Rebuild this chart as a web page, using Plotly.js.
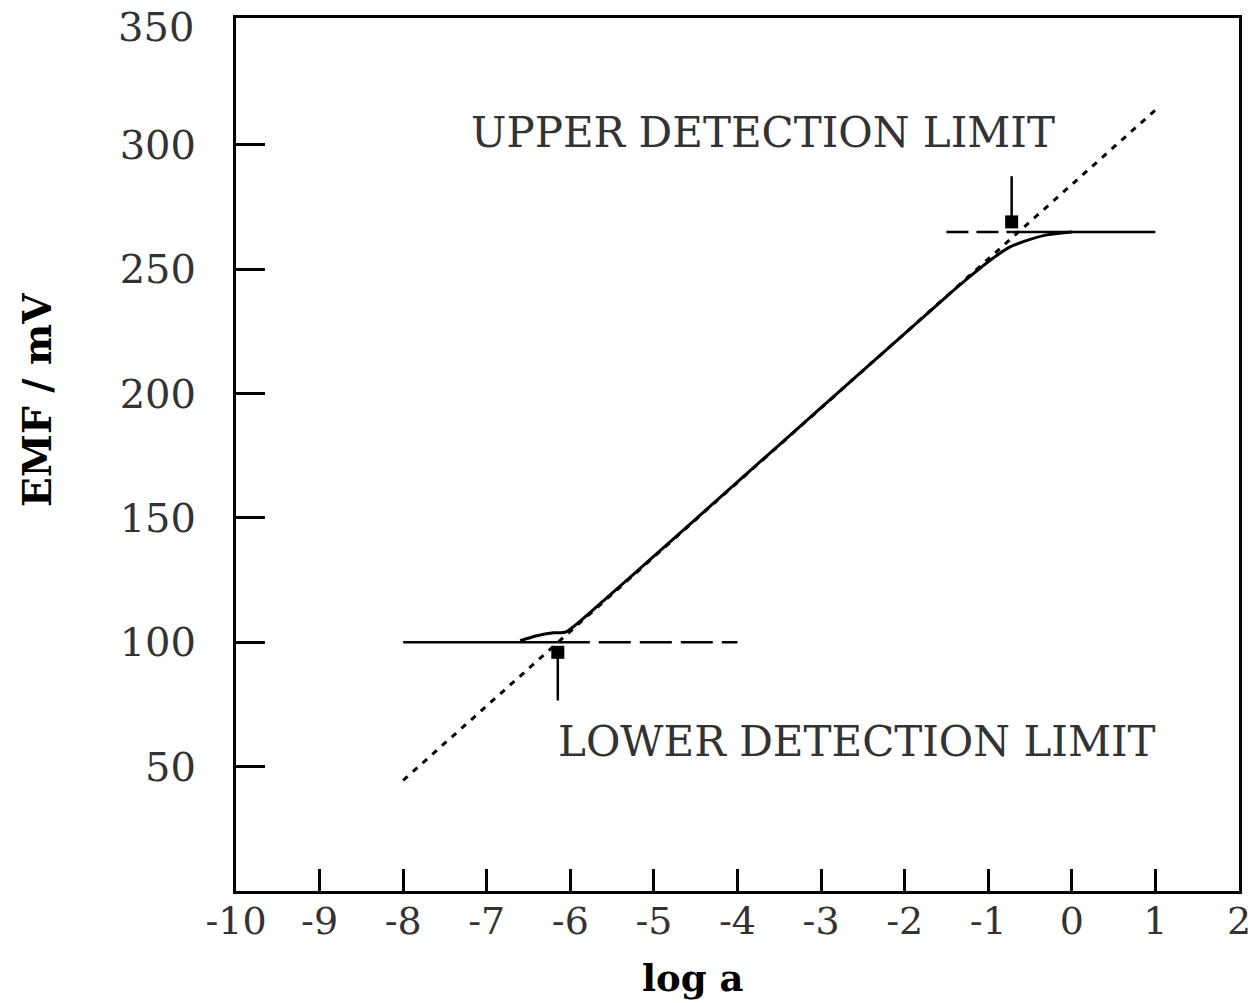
<!DOCTYPE html>
<html>
<head>
<meta charset="utf-8">
<script src="https://cdn.plot.ly/plotly-3.0.1.min.js"></script>
<style>html,body{margin:0;padding:0;background:#fff;}#chart{width:1257px;height:1003px;}</style>
</head>
<body>
<div id="chart"></div>
<script>
// Measured response (solid curve)
const curveX = [-6.6, -6.4, -6.2, -6.05, -5.5, -5, -4, -3, -2, -1.5, -1.25, -1.0, -0.75, -0.5, -0.3, -0.1, 0];
const curveY = [100.6, 102.6, 103.8, 104.2, 119.8, 134.6, 164.5, 194.3, 224.1, 239.0, 246.2, 253.0, 258.8, 262.0, 263.8, 264.7, 265.0];

// Extrapolated Nernstian line (dotted)
const nernstX = [-8, 1];
const nernstY = [44.5, 314];

// Lower detection limit construction line
const lowerSolidX = [-8, -6.15];
const lowerDashX = [-6.15, -4];
const lowerY = [100, 100];

// Upper detection limit construction line
const upperDashX = [-1.5, -0.72];
const upperSolidX = [-0.72, 1];
const upperY = [265, 265];

// Detection limit arrow positions (x, tip y, tail y)
const lowerLimitArrow = {x: -6.15, tip: 100, tail: 76};
const upperLimitArrow = {x: -0.72, tip: 265, tail: 288};

// Axis ticks
const xTickVals = [-10, -9, -8, -7, -6, -5, -4, -3, -2, -1, 0, 1, 2];
const xTickText = ['-10', '-9', '-8', '-7', '-6', '-5', '-4', '-3', '-2', '-1', '0', '1', '2'];
const yTickVals = [50, 100, 150, 200, 250, 300];
const yTickText = ['50', '100', '150', '200', '250', '300'];
// top label of the y axis (no tick mark in the original, sits at the frame top)
const yTopVal = 350;
const yTopText = '350';

const FONT = 'DejaVu Serif';

const traces = [
  {x: nernstX, y: nernstY, mode: 'lines', line: {color: '#000', width: 3, dash: '6px,7px'}, hoverinfo: 'skip'},
  {x: lowerSolidX, y: lowerY, mode: 'lines', line: {color: '#000', width: 2.5}, hoverinfo: 'skip'},
  {x: lowerDashX, y: lowerY, mode: 'lines', line: {color: '#000', width: 2.5, dash: '32px,9px'}, hoverinfo: 'skip'},
  {x: upperDashX, y: upperY, mode: 'lines', line: {color: '#000', width: 2.5, dash: '22px,8px'}, hoverinfo: 'skip'},
  {x: upperSolidX, y: upperY, mode: 'lines', line: {color: '#000', width: 2.5}, hoverinfo: 'skip'},
  {x: curveX, y: curveY, mode: 'lines', line: {color: '#000', width: 3, shape: 'spline', smoothing: 0.6}, hoverinfo: 'skip'}
];

function arrow(a) {
  return {
    x: a.x, y: a.tip, ax: a.x, ay: a.tail, xref: 'x', yref: 'y', axref: 'x', ayref: 'y',
    text: '', showarrow: true, arrowhead: 7, arrowsize: 1.3, arrowwidth: 2.5, arrowcolor: '#000', standoff: 10
  };
}

const layout = {
  width: 1257, height: 1003,
  margin: {l: 236, r: 18, t: 18, b: 112},
  paper_bgcolor: '#fff', plot_bgcolor: '#fff',
  showlegend: false,
  font: {family: FONT, color: '#333'},
  xaxis: {
    range: [-10, 2], tickmode: 'array', tickvals: xTickVals, ticktext: xTickText,
    ticks: 'inside', ticklen: 22, tickwidth: 3, tickcolor: '#000',
    showline: true, linewidth: 3, linecolor: '#000', mirror: true,
    showgrid: false, zeroline: false, ticklabeloverflow: 'allow',
    tickfont: {family: FONT, size: 38, color: '#333'}, ticklabelstandoff: -6
  },
  yaxis: {
    range: [0, 351], tickmode: 'array', tickvals: yTickVals, ticktext: yTickText,
    ticks: 'inside', ticklen: 29, tickwidth: 3, tickcolor: '#000',
    showline: true, linewidth: 3, linecolor: '#000', mirror: true,
    showgrid: false, zeroline: false, ticklabeloverflow: 'allow',
    tickfont: {family: FONT, size: 40, color: '#333'}, ticklabelstandoff: 29
  },
  annotations: [
    arrow(lowerLimitArrow),
    arrow(upperLimitArrow),
    {x: -0.0409, y: yTopVal, xref: 'paper', yref: 'y', text: yTopText, showarrow: false,
     xanchor: 'right', yanchor: 'middle', yshift: -7, borderpad: 0,
     font: {family: FONT, size: 40, color: '#333'}},
    {x: -3.7, y: 305, xref: 'x', yref: 'y', text: 'UPPER DETECTION LIMIT', showarrow: false,
     xanchor: 'center', yanchor: 'middle', font: {family: FONT, size: 42, color: '#333'}},
    {x: -2.57, y: 60, xref: 'x', yref: 'y', text: 'LOWER DETECTION LIMIT', showarrow: false,
     xanchor: 'center', yanchor: 'middle', font: {family: FONT, size: 42, color: '#333'}},
    {x: 0.4556, y: -0.1, xref: 'paper', yref: 'paper', text: '<b>log a</b>', showarrow: false,
     xanchor: 'center', yanchor: 'middle', font: {family: FONT, size: 37, color: '#000'}},
    {x: -0.199, y: 0.563, xref: 'paper', yref: 'paper', text: '<b>EMF / mV</b>', showarrow: false,
     textangle: -90, xanchor: 'center', yanchor: 'middle', font: {family: FONT, size: 39, color: '#000'}}
  ]
};

Plotly.newPlot('chart', traces, layout, {displayModeBar: false, staticPlot: true});
</script>
</body>
</html>
